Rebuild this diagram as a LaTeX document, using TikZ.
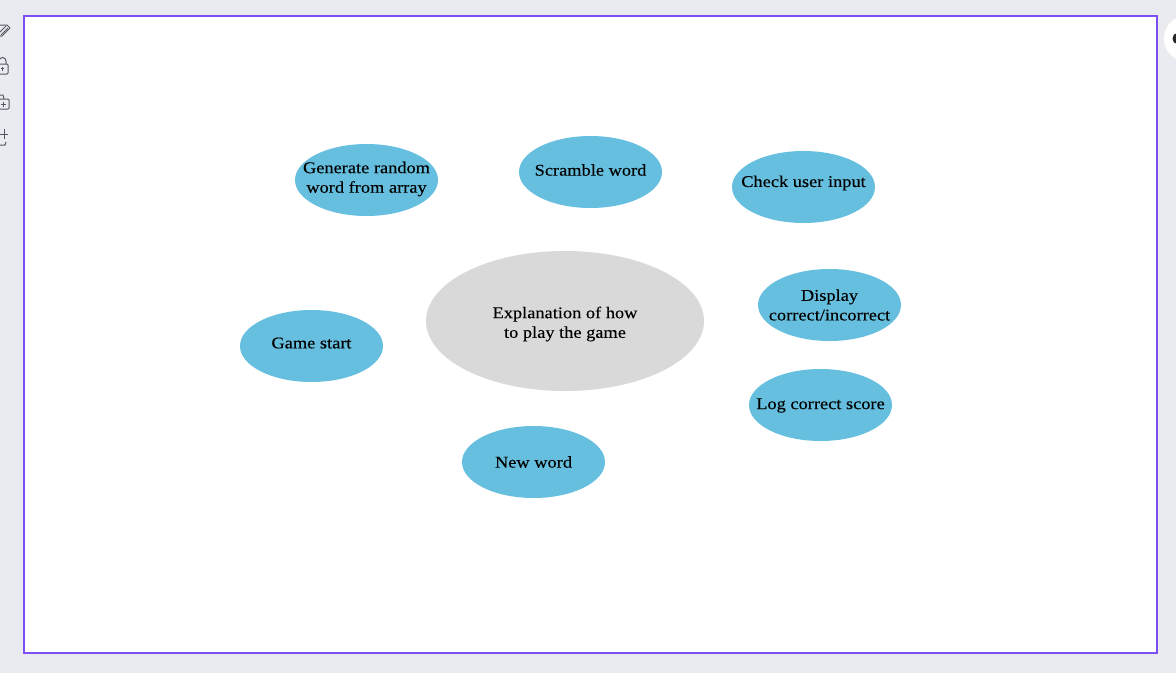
\documentclass[tikz,border=0pt]{standalone}
\usepackage{fontspec}
\setmainfont[FakeStretch=1.12,FakeBold=0.15]{Liberation Serif}
\usetikzlibrary{shapes.geometric}
\definecolor{pagebg}{HTML}{E9EBF0}
\definecolor{framec}{HTML}{7B4FF5}
\definecolor{bluefill}{HTML}{66BFDF}
\definecolor{greyfill}{HTML}{D9D9D9}
\definecolor{iconc}{HTML}{555861}
\tikzset{
  x=1pt,y=-1pt,
  blob/.style={ellipse,draw=none,fill=bluefill,minimum width=143pt,minimum height=72pt,inner sep=0pt},
  bigblob/.style={ellipse,draw=none,fill=greyfill,minimum width=278pt,minimum height=140pt,inner sep=0pt},
  lbl/.style={align=center,text=black,inner sep=0pt,font=\fontsize{16.4}{19.6}\selectfont},
  icon/.style={draw=iconc,line width=1pt,fill=none}
}
\begin{document}
\begin{tikzpicture}
\useasboundingbox (0,0) rectangle (1176,673);
\fill[pagebg] (0,0) rectangle (1176,673);
\draw[framec,fill=white,line width=2pt] (24,16) rectangle (1157,653);
% toolbar icons
\begin{scope}
\clip (0,0) rectangle (12,160);
\draw[icon] (-3,36) -- (2,36) -- (10,28) -- (7,25) -- (-1,25);
\draw[icon] (-1,33) -- (6,26) (1,35) -- (8,28);
\draw[icon,rounded corners=1pt] (-3,64) rectangle (8,74);
\draw[icon] (-1,64) -- (-1,61) arc[start angle=180,end angle=360,radius=3.5] -- (6,64);
\draw[icon] (2.5,67) -- (2.5,71) (1,68) -- (4,68);
\draw[icon,rounded corners=1pt] (-2,99) rectangle (9,109);
\draw[icon] (-2,99) -- (-2,95) -- (3,95) -- (4,99);
\draw[icon] (3.5,101.5) -- (3.5,106.5) (1,104) -- (6,104);
\draw[icon] (-2,134) -- (8,134) (4,129) -- (4,139);
\draw[icon] (-2,145) -- (5,145) -- (6,142);
\end{scope}
% top-right button
\fill[black!7] (1187,38.5) circle[radius=24.5];
\fill[white] (1187,38.5) circle[radius=23];
\fill[black!85] (1177,38.5) ellipse[x radius=4.5,y radius=5.5];
% ellipses
\node[bigblob] (explain) at (565,321) {};
\node[blob] (generate) at (366.5,180) {};
\node[blob] (scramble) at (590.5,172) {};
\node[blob] (check) at (803.5,187) {};
\node[blob] (display) at (829.5,305) {};
\node[blob] (log) at (820.5,405) {};
\node[blob] (newword) at (533.5,462) {};
\node[blob] (start) at (311.5,346) {};
% labels
\node[lbl] (explaintext) at (565,324) {Explanation of how\\to play the game};
\node[lbl] (generatetext) at (366.5,179) {Generate random\\word from array};
\node[lbl] (scrambletext) at (590.5,170) {Scramble word};
\node[lbl] (checktext) at (803.5,183) {Check user input};
\node[lbl] (displaytext) at (829.5,305) {Display\\correct/incorrect};
\node[lbl] (logtext) at (820.5,405.5) {Log correct score};
\node[lbl] (newwordtext) at (533.5,462) {New word};
\node[lbl] (starttext) at (311.5,343) {Game start};
\end{tikzpicture}
\end{document}
